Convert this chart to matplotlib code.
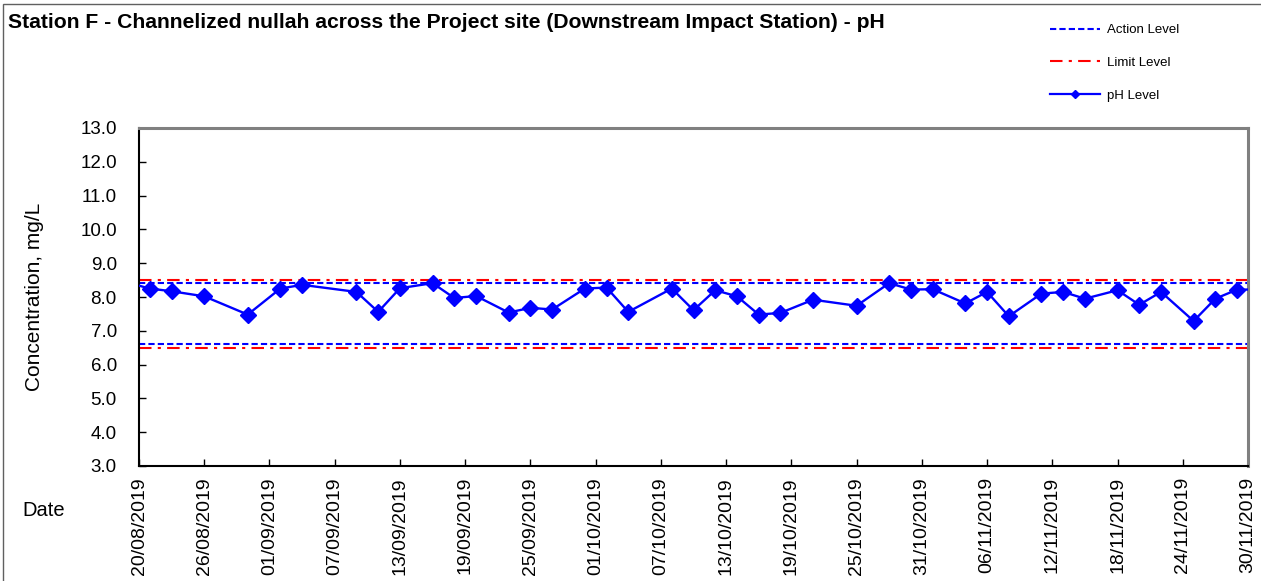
import matplotlib
matplotlib.use("Agg")
import matplotlib.pyplot as plt
import matplotlib.dates as mdates
from matplotlib.lines import Line2D
from matplotlib.patches import Rectangle
import pandas as pd

plt.rcParams['font.family'] = ['Liberation Sans', 'DejaVu Sans']

title = "Station F - Channelized nullah across the Project site (Downstream Impact Station) - pH"

dates = ["19/08/2019", "21/08/2019", "23/08/2019", "26/08/2019", "30/08/2019", "02/09/2019",
         "04/09/2019", "09/09/2019", "11/09/2019", "13/09/2019", "16/09/2019", "18/09/2019",
         "20/09/2019", "23/09/2019", "25/09/2019", "27/09/2019", "30/09/2019", "02/10/2019",
         "04/10/2019", "08/10/2019", "10/10/2019", "12/10/2019", "14/10/2019", "16/10/2019",
         "18/10/2019", "21/10/2019", "25/10/2019", "28/10/2019", "30/10/2019", "01/11/2019",
         "04/11/2019", "06/11/2019", "08/11/2019", "11/11/2019", "13/11/2019", "15/11/2019",
         "18/11/2019", "20/11/2019", "22/11/2019", "25/11/2019", "27/11/2019", "29/11/2019",
         "02/12/2019"]
ph_values = [8.42, 8.25, 8.17, 8.02, 7.48, 8.25, 8.36, 8.15, 7.56, 8.26, 8.41, 7.97, 8.03,
             7.54, 7.68, 7.63, 8.25, 8.28, 7.56, 8.25, 7.61, 8.20, 8.02, 7.48, 7.53, 7.92,
             7.74, 8.41, 8.22, 8.23, 7.81, 8.15, 7.43, 8.10, 8.15, 7.95, 8.20, 7.77, 8.15,
             7.29, 7.95, 8.22, 8.22]

action_levels = [8.4, 6.6]
limit_levels = [8.5, 6.5]

x_start = "20/08/2019"
x_end = "30/11/2019"
tick_step_days = 6
y_min, y_max, y_step = 3.0, 13.0, 1.0

d = pd.to_datetime(dates, format="%d/%m/%Y")
xs = pd.to_datetime(x_start, format="%d/%m/%Y")
xe = pd.to_datetime(x_end, format="%d/%m/%Y")

W, H = 1261, 581
fig = plt.figure(figsize=(W / 100, H / 100), dpi=100)
ax = fig.add_axes([139 / W, 1 - 466 / H, (1248 - 139) / W, (466 - 128) / H])

for lv in limit_levels:
    ax.axhline(lv, color='red', linestyle=(0, (6, 3, 1.5, 3)), linewidth=1.5, zorder=2)
for lv in action_levels:
    ax.axhline(lv, color='blue', linestyle=(0, (3, 1.5)), linewidth=1.5, zorder=2)

ax.plot(d, ph_values, color='blue', linewidth=1.7, marker='D', markersize=8.5,
        markeredgecolor='blue', markerfacecolor='blue', zorder=3)

ax.set_xlim(xs, xe)
ax.set_ylim(y_min, y_max)
ticks = pd.date_range(xs, xe, freq=f"{tick_step_days}D")
ax.set_xticks(ticks)
ax.set_xticklabels([t.strftime("%d/%m/%Y") for t in ticks], rotation=90, fontsize=14)
yt = [y_min + i * y_step for i in range(int(round((y_max - y_min) / y_step)) + 1)]
ax.set_yticks(yt)
ax.set_yticklabels([f"{v:.1f}" for v in yt], fontsize=13.5)
ax.tick_params(axis='both', direction='in', length=5, width=1, color='black')
ax.tick_params(axis='y', pad=16)
ax.tick_params(axis='x', pad=8)

for s in ['top', 'right']:
    ax.spines[s].set_color('#808080')
    ax.spines[s].set_linewidth(2.2)
for s in ['left', 'bottom']:
    ax.spines[s].set_color('black')
    ax.spines[s].set_linewidth(1.5)

ax.set_ylabel("Concentration, mg/L", fontsize=15, labelpad=26)
fig.text(22 / W, 1 - 510 / H, "Date", fontsize=14.5, va='center', ha='left')
fig.text(8 / W, 1 - 22 / H, title, fontsize=15.2, fontweight='bold', va='center', ha='left')

handles = [Line2D([], [], color='blue', linestyle=(0, (3, 1.5)), linewidth=1.5),
           Line2D([], [], color='red', linestyle=(0, (6, 3, 1.5, 3)), linewidth=1.5),
           Line2D([], [], color='blue', linewidth=1.6, marker='D', markersize=4)]
fig.legend(handles, ["Action Level", "Limit Level", "pH Level"], loc='upper left',
           bbox_to_anchor=(1050 / W, 1 - 24 / H), frameon=False, fontsize=9.5,
           handlelength=3.8, handletextpad=0.5, labelspacing=1.55, borderpad=0,
           borderaxespad=0)

fig.patches.append(Rectangle((3 / W, -0.2), 1.2, 1.2 - 4 / H, transform=fig.transFigure,
                             fill=False, edgecolor='#606060', linewidth=1))

fig.savefig("out.png", dpi=100)
